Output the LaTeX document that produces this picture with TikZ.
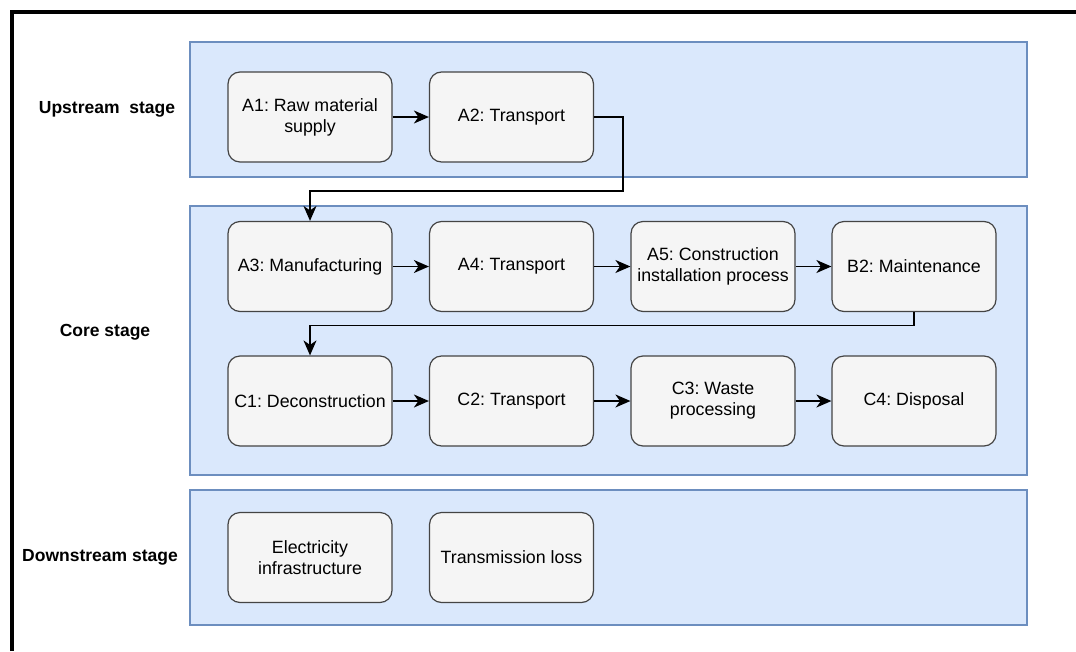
\documentclass[tikz,border=0pt]{standalone}
\usepackage{fontspec}
\setmainfont{Liberation Sans}
\usetikzlibrary{arrows.meta}
\definecolor{lanefill}{HTML}{DAE8FC}
\definecolor{lanedraw}{HTML}{6C8EBF}
\definecolor{boxfill}{HTML}{F5F5F5}
\definecolor{boxdraw}{HTML}{444444}
\frenchspacing
\begin{document}
\begin{tikzpicture}[x=1pt,y=-1pt,
  lane/.style={draw=lanedraw, fill=lanefill, line width=1.2pt, inner sep=0pt, minimum width=837pt},
  stepbox/.style={draw=boxdraw, fill=boxfill, line width=1.2pt, rounded corners=12pt,
    minimum width=164pt, minimum height=90pt, align=center, inner sep=2pt,
    font=\fontsize{17.8}{21}\selectfont},
  stagelabel/.style={font=\fontsize{17.5}{21}\selectfont\bfseries, inner sep=0pt},
  flow/.style={draw=black, line width=1.4pt, -{Stealth[length=15pt,width=13pt,inset=4.5pt]}}]
\useasboundingbox (0,0) rectangle (1076,651);
\fill[white] (0,0) rectangle (1076,651);
\draw[line width=4pt, line join=miter] (12,651) -- (12,12) -- (1076,12);

% lanes
\node[lane, minimum height=135pt] (up) at (608.5,109.5) {};
\node[lane, minimum height=269pt] (core) at (608.5,340.5) {};
\node[lane, minimum height=135pt] (down) at (608.5,557.5) {};

% stage labels
\node[stagelabel] (lup) at (107,109) {Upstream\ \ stage};
\node[stagelabel] (lcore) at (105,332) {Core stage};
\node[stagelabel] (ldown) at (100,557) {Downstream stage};

% boxes
\node[stepbox] (a1) at (310,117) {A1: Raw material\\supply};
\node[stepbox] (a2) at (511.5,117) {A2: Transport};

\node[stepbox] (a3) at (310,266.5) {A3: Manufacturing};
\node[stepbox] (a4) at (511.5,266.5) {A4: Transport};
\node[stepbox] (a5) at (713,266.5) {A5: Construction\\installation process};
\node[stepbox] (b2) at (914,266.5) {B2: Maintenance};

\node[stepbox] (c1) at (310,401) {C1: Deconstruction};
\node[stepbox] (c2) at (511.5,401) {C2: Transport};
\node[stepbox] (c3) at (713,401) {C3: Waste\\processing};
\node[stepbox] (c4) at (914,401) {C4: Disposal};

\node[stepbox] (d1) at (310,557.5) {Electricity\\infrastructure};
\node[stepbox] (d2) at (511.5,557.5) {Transmission loss};

% connectors
\draw[flow] (a1) -- (a2);
\draw[flow] (a3) -- (a4);
\draw[flow] (a4) -- (a5);
\draw[flow] (a5) -- (b2);
\draw[flow] (c1) -- (c2);
\draw[flow] (c2) -- (c3);
\draw[flow] (c3) -- (c4);
\draw[flow] (a2.east) -- ++(29,0) |- ([yshift=30pt]a3.north) -- (a3.north);
\draw[flow] (b2.south) -- ++(0,13.5) -| (c1.north);
\end{tikzpicture}
\end{document}
